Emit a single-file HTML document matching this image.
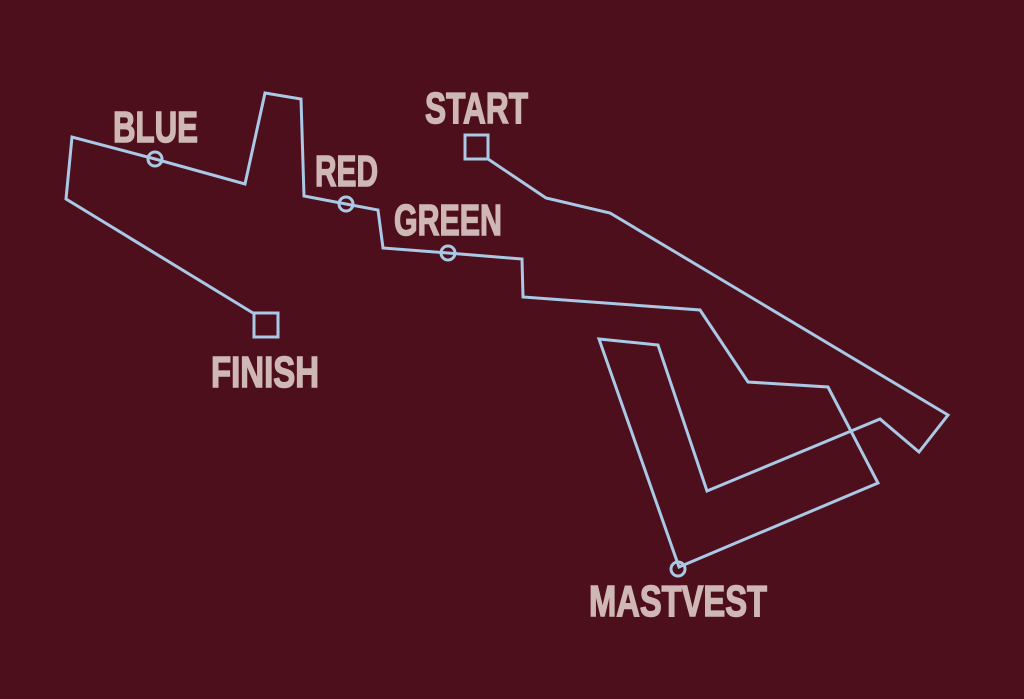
<!DOCTYPE html>
<html><head><meta charset="utf-8"><style>
html,body{margin:0;padding:0;background:#4e0f1c;}
svg{display:block;}
text{font-family:"Liberation Sans",sans-serif;font-weight:bold;font-size:44px;fill:#cfb7b5;stroke:#cfb7b5;stroke-width:1.5;}
</style></head><body>
<svg width="1024" height="699" viewBox="0 0 1024 699" xmlns="http://www.w3.org/2000/svg">
<rect width="1024" height="699" fill="#4e0f1c"/>
<g fill="none" stroke="#a9c9e7" stroke-width="3" stroke-linejoin="miter">
<polyline points="488,159 546,198 610,213 948,415 919,452 880,419 707,491 658,345 599,339 679,567 878,483 828,387 748,382 700,310 523,297 522,259 448,253 383,248 378,210 346,204 304,196 301,99 265,93 245,184 155,159 72,137 66,199 253,313"/>
<rect x="465" y="135" width="23" height="24"/>
<rect x="254" y="313" width="24" height="24"/>
<circle cx="155" cy="159" r="7"/>
<circle cx="346" cy="204" r="7"/>
<circle cx="448" cy="253" r="7"/>
<circle cx="678" cy="569" r="7"/>
</g>
<text x="425" y="123" textLength="103" lengthAdjust="spacingAndGlyphs">START</text>
<text x="113" y="142" textLength="85" lengthAdjust="spacingAndGlyphs">BLUE</text>
<text x="315" y="186" textLength="63" lengthAdjust="spacingAndGlyphs">RED</text>
<text x="394" y="235" textLength="108" lengthAdjust="spacingAndGlyphs">GREEN</text>
<text x="211" y="387" textLength="108" lengthAdjust="spacingAndGlyphs">FINISH</text>
<text x="589" y="616" textLength="178" lengthAdjust="spacingAndGlyphs">MASTVEST</text>
</svg>
</body></html>
